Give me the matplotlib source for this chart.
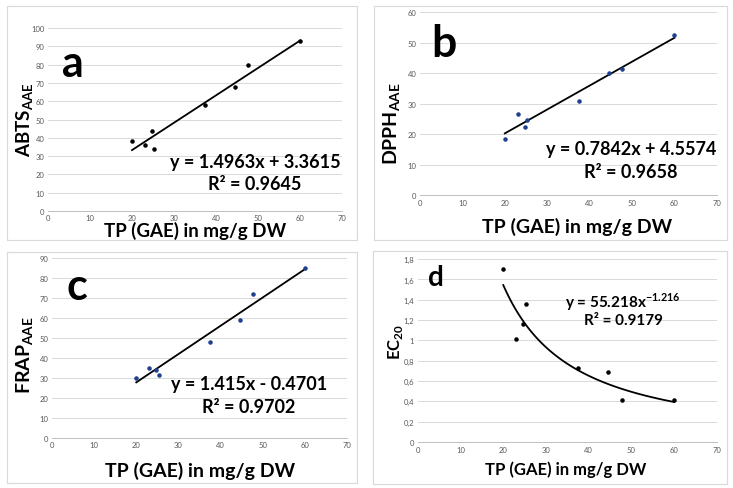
import numpy as np
import matplotlib
matplotlib.use('Agg')
import matplotlib.pyplot as plt
from matplotlib.patches import Rectangle

plt.rcParams['font.family'] = ['Lato', 'DejaVu Sans']

# TP (GAE) in mg/g DW, shared by all four panels
tp = [20.0, 23.0, 24.7, 25.3, 37.5, 44.5, 47.7, 60.0]

abts = [38, 36, 44, 34, 58, 68, 80, 93]
dpph = [18.5, 26.5, 22.5, 24.5, 31, 40, 41.5, 52.5]
frap = [30, 35.2, 34, 31.5, 48, 59, 72, 85]
ec20 = [1.70, 1.01, 1.16, 1.36, 0.73, 0.69, 0.41, 0.41]

# trendline coefficients as printed on the chart
abts_fit = (1.4963, 3.3615)
dpph_fit = (0.7842, 4.5574)
frap_fit = (1.415, -0.4701)

W, H = 733, 489
fig = plt.figure(figsize=(W / 100, H / 100), dpi=100)
fig.patch.set_facecolor('white')


def fx(px):
    return px / W


def fy(py):
    return 1 - py / H


# light grey frames around each panel
for (x0, y0, x1, y1) in [(7, 7, 357, 241), (374, 7, 727, 241),
                         (7, 253, 357, 484), (373, 252, 727, 485)]:
    fig.patches.append(Rectangle((fx(x0), fy(y1)), fx(x1 - x0), (y1 - y0) / H,
                                 transform=fig.transFigure, fill=False,
                                 edgecolor='#d9d9d9', lw=0.8))


def style(ax, ymax, ystep, comma=False):
    ax.set_xlim(0, 70)
    ax.set_ylim(0, ymax)
    ax.set_xticks(range(0, 71, 10))
    yt = np.arange(0, ymax + ystep / 2, ystep)
    ax.set_yticks(yt)
    if comma:
        ax.set_yticklabels([('%g' % v).replace('.', ',') for v in yt])
    ax.grid(axis='y', color='#d9d9d9', lw=0.7)
    ax.set_axisbelow(True)
    for s in ['top', 'right', 'left']:
        ax.spines[s].set_visible(False)
    ax.spines['bottom'].set_color('#bfbfbf')
    ax.spines['bottom'].set_linewidth(0.7)
    ax.tick_params(length=0, labelsize=5.5, labelcolor='#595959', pad=2.5)


def labels(xl, yl, ylab, size):
    fig.text(fx(xl[0]), fy(xl[1]), 'TP (GAE) in mg/g DW', fontsize=size,
             fontweight='bold', ha='center', va='center')
    fig.text(fx(yl[0]), fy(yl[1]), ylab, fontsize=size, fontweight='bold',
             ha='center', va='center', rotation=90)


xs = np.array([20, 60])

# a
ax = fig.add_axes([0.0655, 0.5665, 0.401, 0.374])
style(ax, 100, 10)
ax.scatter(tp, abts, s=5, color='black', zorder=3)
ax.plot(xs, abts_fit[0] * xs + abts_fit[1], color='black', lw=1.3)
labels((195, 231), (25, 120), r'ABTS$_\mathregular{AAE}$', 13.5)
fig.text(fx(73), fy(64), 'a', fontsize=31, fontweight='bold', ha='center', va='center')
fig.text(fx(255), fy(163), 'y = 1.4963x + 3.3615', fontsize=13, fontweight='bold',
         ha='center', va='center')
fig.text(fx(255), fy(185), 'R² = 0.9645', fontsize=13, fontweight='bold',
         ha='center', va='center')

# b
ax = fig.add_axes([0.573, 0.599, 0.405, 0.374])
style(ax, 60, 10)
ax.scatter(tp, dpph, s=5, color='#1f3f8f', zorder=3)
ax.plot(xs, dpph_fit[0] * xs + dpph_fit[1], color='black', lw=1.3)
labels((577, 227), (392, 124), r'DPPH$_\mathregular{AAE}$', 14)
fig.text(fx(444), fy(44), 'b', fontsize=32, fontweight='bold', ha='center', va='center')
fig.text(fx(631), fy(150), 'y = 0.7842x + 4.5574', fontsize=13, fontweight='bold',
         ha='center', va='center')
fig.text(fx(631), fy(172), 'R² = 0.9658', fontsize=13, fontweight='bold',
         ha='center', va='center')

# c
ax = fig.add_axes([0.0709, 0.1022, 0.4025, 0.368])
style(ax, 90, 10)
ax.scatter(tp, frap, s=5, color='#1f3f8f', zorder=3)
ax.plot(xs, frap_fit[0] * xs + frap_fit[1], color='black', lw=1.3)
labels((200, 471), (25, 355), r'FRAP$_\mathregular{AAE}$', 14)
fig.text(fx(77), fy(287), 'c', fontsize=31, fontweight='bold', ha='center', va='center')
fig.text(fx(249), fy(385), 'y = 1.415x - 0.4701', fontsize=13, fontweight='bold',
         ha='center', va='center')
fig.text(fx(249), fy(408), 'R² = 0.9702', fontsize=13, fontweight='bold',
         ha='center', va='center')

# d - power trendline fitted in log-log space
ax = fig.add_axes([0.570, 0.094, 0.408, 0.374])
style(ax, 1.8, 0.2, comma=True)
ax.scatter(tp, ec20, s=5, color='black', zorder=3)
b, lna = np.polyfit(np.log(tp), np.log(ec20), 1)
xc = np.linspace(20, 60, 100)
ax.plot(xc, np.exp(lna) * xc ** b, color='black', lw=1.3)
labels((566, 470), (395, 342), r'EC$_\mathregular{20}$', 12)
fig.text(fx(436), fy(278), 'd', fontsize=20, fontweight='bold', ha='center', va='center')
fig.text(fx(623), fy(302), r'y = 55.218x$^\mathregular{-1.216}$', fontsize=11,
         fontweight='bold', ha='center', va='center')
fig.text(fx(623), fy(321), 'R² = 0.9179', fontsize=11, fontweight='bold',
         ha='center', va='center')

fig.savefig('out.png', dpi=100)
